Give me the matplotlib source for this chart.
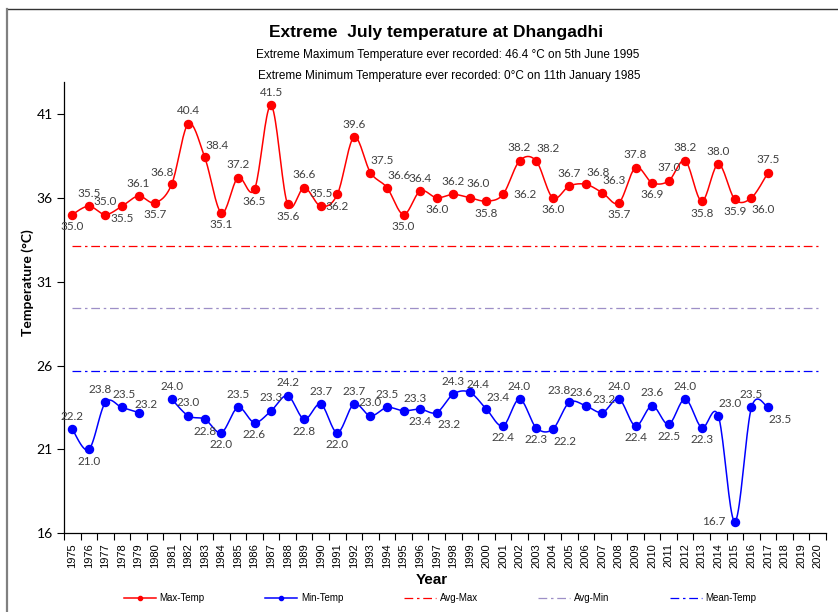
import numpy as np
import matplotlib
matplotlib.use("Agg")
import matplotlib.pyplot as plt
from matplotlib.lines import Line2D

# data
years = list(range(1975, 2018))
max_temp = [35.0, 35.5, 35.0, 35.5, 36.1, 35.7, 36.8, 40.4, 38.4, 35.1,
            37.2, 36.5, 41.5, 35.6, 36.6, 35.5, 36.2, 39.6, 37.5, 36.6,
            35.0, 36.4, 36.0, 36.2, 36.0, 35.8, 36.2, 38.2, 38.2, 36.0,
            36.7, 36.8, 36.3, 35.7, 37.8, 36.9, 37.0, 38.2, 35.8, 38.0,
            35.9, 36.0, 37.5]
min_temp = [22.2, 21.0, 23.8, 23.5, 23.2, np.nan, 24.0, 23.0, 22.8, 22.0,
            23.5, 22.6, 23.3, 24.2, 22.8, 23.7, 22.0, 23.7, 23.0, 23.5,
            23.3, 23.4, 23.2, 24.3, 24.4, 23.4, 22.4, 24.0, 22.3, 22.2,
            23.8, 23.6, 23.2, 24.0, 22.4, 23.6, 22.5, 24.0, 22.3, 23.0,
            16.7, 23.5, 23.5]
avg_max = 33.1
avg_min = 29.4
mean_temp = 25.7
axis_years = list(range(1975, 2021))

# where each data label sits relative to its point
max_pos = ("b a a b a b al a ar b "
           "a b a b a a b a ar ar "
           "b a b a ar3 b r a ar b "
           "a ar ar b a b a a b a "
           "b br a").split()
min_pos = ("a b al2 ar4 ar2 - a a b b "
           "a b a a b a b a a a "
           "ar b br a ar2 ar b a b br "
           "al al2 ar4 a b a b a b ar "
           "l a br").split()
offsets = {"a": (0, 13), "b": (0, -12), "ar": (12, 12), "ar2": (8, 8), "ar3": (8, 14),
           "ar4": (2, 13), "al": (-10, 12), "al2": (-5, 13),
           "r": (22, 0), "l": (-21, 0), "br": (12, -12)}


def smooth(xs, ys, n=20):
    """Catmull-Rom curve like Excel's smoothed line"""
    xs = np.asarray(xs, float)
    ys = np.asarray(ys, float)
    px = np.concatenate([[xs[0]], xs, [xs[-1]]])
    py = np.concatenate([[ys[0]], ys, [ys[-1]]])
    out_x, out_y = [], []
    t = np.linspace(0, 1, n)
    for i in range(1, len(px) - 2):
        p0 = np.array([px[i], py[i]])
        p3 = np.array([px[i + 1], py[i + 1]])
        c1 = p0 + (p3 - np.array([px[i - 1], py[i - 1]])) / 6
        c2 = p3 - (np.array([px[i + 2], py[i + 2]]) - p0) / 6
        b = ((1 - t) ** 3)[:, None] * p0 + (3 * (1 - t) ** 2 * t)[:, None] * c1 \
            + (3 * (1 - t) * t ** 2)[:, None] * c2 + (t ** 3)[:, None] * p3
        out_x.extend(b[:, 0])
        out_y.extend(b[:, 1])
    return out_x, out_y


def draw_series(ax, xs, ys, color):
    xs = np.asarray(xs, float)
    ys = np.asarray(ys, float)
    ok = ~np.isnan(ys)
    # split into runs without gaps
    start = None
    for i in range(len(ys) + 1):
        if i < len(ys) and ok[i]:
            if start is None:
                start = i
        elif start is not None:
            sx, sy = smooth(xs[start:i], ys[start:i])
            ax.plot(sx, sy, color=color, lw=1.1, zorder=3)
            start = None
    ax.plot(xs[ok], ys[ok], 'o', color=color, ms=5.8, zorder=4)


def label_series(ax, xs, ys, pos):
    for x, y, p in zip(xs, ys, pos):
        if np.isnan(y) or p == "-":
            continue
        ax.annotate(f"{y:.1f}", (x, y), xytext=offsets[p], textcoords="offset pixels",
                    ha="center", va="center", fontsize=8.5, color="#404040",
                    family=["Lato", "DejaVu Sans"], zorder=5)


fig = plt.figure(figsize=(8.38, 6.12), dpi=100)
ax = fig.add_axes([64 / 838, 1 - 533.3 / 612, (826 - 64) / 838, (533.3 - 82) / 612])

draw_series(ax, years, max_temp, "#FF0000")
draw_series(ax, years, min_temp, "#0000FF")
label_series(ax, years, max_temp, max_pos)
label_series(ax, years, min_temp, min_pos)

dash = (7, 3, 2, 3)
ax.plot([axis_years[0], axis_years[-1]], [avg_max] * 2, color="#FF0000", lw=0.9, dashes=dash)
ax.plot([axis_years[0], axis_years[-1]], [avg_min] * 2, color="#9D8FC7", lw=0.9, dashes=dash)
ax.plot([axis_years[0], axis_years[-1]], [mean_temp] * 2, color="#0000FF", lw=0.9, dashes=dash)

ax.set_xlim(axis_years[0] - 0.5, axis_years[-1] + 0.5)
ax.set_ylim(16, 42.9)
ax.set_yticks([16, 21, 26, 31, 36, 41])
ax.set_xticks(axis_years)
ax.set_xticklabels([str(y) for y in axis_years], rotation=90, fontsize=8,
                   family=["Liberation Sans", "DejaVu Sans"])
ax.set_xticks(np.arange(axis_years[0] - 0.5, axis_years[-1] + 1), minor=True)
ax.tick_params(axis="x", which="major", length=0, pad=7)
ax.tick_params(axis="x", which="minor", length=5, direction="out", width=0.8)
ax.tick_params(axis="y", length=5, direction="out", width=0.8, labelsize=10, pad=3)
for t in ax.get_yticklabels():
    t.set_family(["Lato", "DejaVu Sans"])
for s in ["top", "right"]:
    ax.spines[s].set_visible(False)
for s in ["left", "bottom"]:
    ax.spines[s].set_linewidth(0.9)

fig.text(436 / 838, 1 - 32 / 612, "Extreme  July temperature at Dhangadhi", ha="center", va="center",
         fontsize=12.5, fontweight="bold", family=["Liberation Sans", "DejaVu Sans"])
fig.text(448 / 838, 1 - 55 / 612, "Extreme Maximum Temperature ever recorded: 46.4 \u00b0C on 5th June 1995",
         ha="center", va="center", fontsize=8.5, family=["Liberation Sans", "DejaVu Sans"])
fig.text(449 / 838, 1 - 76 / 612, "Extreme Minimum Temperature ever recorded: 0\u00b0C on 11th January 1985",
         ha="center", va="center", fontsize=8.5, family=["Liberation Sans", "DejaVu Sans"])
fig.text(28 / 838, 1 - 283 / 612, "Temperature (\u00b0C)", rotation=90, ha="center", va="center",
         fontsize=10, fontweight="bold", family=["Lato", "DejaVu Sans"])
fig.text(432 / 838, 1 - 580 / 612, "Year", ha="center", va="center", fontsize=11,
         fontweight="bold", family=["Liberation Sans Narrow", "Liberation Sans", "DejaVu Sans"])

handles = [
    Line2D([], [], color="#FF0000", lw=1.1, marker="o", ms=3),
    Line2D([], [], color="#0000FF", lw=1.1, marker="o", ms=3),
    Line2D([], [], color="#FF0000", lw=0.9, dashes=dash),
    Line2D([], [], color="#9D8FC7", lw=0.9, dashes=dash),
    Line2D([], [], color="#0000FF", lw=0.9, dashes=dash),
]
names = ["Max-Temp", "Min-Temp", "Avg-Max", "Avg-Min", "Mean-Temp"]
fig.legend(handles, names, loc="center", bbox_to_anchor=(440 / 838, 1 - 598 / 612), ncol=5,
           frameon=False, handlelength=3.3, handletextpad=0.4, columnspacing=6.2,
           prop={"family": ["Liberation Sans Narrow", "Liberation Sans", "DejaVu Sans"], "size": 7})

# chart frame edges visible in the reference
fig.add_artist(Line2D([7 / 838, 1], [1 - 9 / 612] * 2, color="#333333", lw=1))
fig.add_artist(Line2D([7 / 838] * 2, [0, 1 - 9 / 612], color="#808080", lw=1.6))

fig.savefig("out.png", dpi=100)
